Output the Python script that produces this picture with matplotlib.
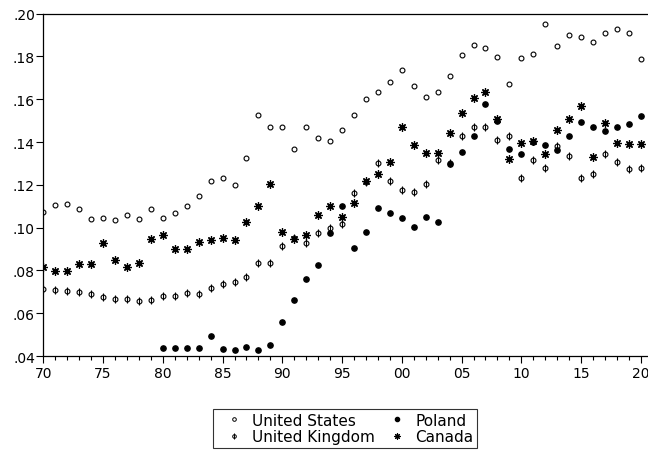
import matplotlib
matplotlib.use("Agg")
import matplotlib.pyplot as plt
import numpy as np
from matplotlib.ticker import MultipleLocator, FuncFormatter
from matplotlib.lines import Line2D

plt.rcParams['font.family'] = ['DejaVu Sans']

years = np.arange(1970, 2021)

united_states = [0.1072, 0.1108, 0.1110, 0.1089, 0.1040, 0.1046, 0.1037, 0.1061, 0.1040, 0.1086,
                 0.1046, 0.1069, 0.1102, 0.1150, 0.1217, 0.1231, 0.1200, 0.1325, 0.1525, 0.1472,
                 0.1472, 0.1368, 0.1472, 0.1418, 0.1407, 0.1455, 0.1527, 0.1602, 0.1634, 0.1679,
                 0.1737, 0.1662, 0.1612, 0.1636, 0.1709, 0.1809, 0.1854, 0.1838, 0.1796, 0.1673,
                 0.1791, 0.1810, 0.1950, 0.1849, 0.1899, 0.1891, 0.1869, 0.1908, 0.1928, 0.1908,
                 0.1790]

united_kingdom = [0.0713, 0.0710, 0.0702, 0.0699, 0.0690, 0.0677, 0.0668, 0.0666, 0.0658, 0.0660,
                  0.0682, 0.0682, 0.0696, 0.0691, 0.0719, 0.0735, 0.0747, 0.0769, 0.0833, 0.0834,
                  0.0912, 0.0953, 0.0926, 0.0974, 0.0998, 0.1015, 0.1161, 0.1212, 0.1301, 0.1217,
                  0.1175, 0.1166, 0.1202, 0.1315, 0.1300, 0.1430, 0.1469, 0.1471, 0.1409, 0.1430,
                  0.1231, 0.1318, 0.1278, 0.1382, 0.1335, 0.1231, 0.1251, 0.1346, 0.1309, 0.1273,
                  0.1278]

poland = [np.nan] * 10 + [
          0.0437, 0.0437, 0.0437, 0.0437, 0.0492, 0.0433, 0.0430, 0.0440, 0.0426, 0.0453,
          0.0557, 0.0660, 0.0758, 0.0825, 0.0974, 0.1100, 0.0907, 0.0979, 0.1091, 0.1068,
          0.1046, 0.1002, 0.1048, 0.1025, 0.1298, 0.1354, 0.1429, 0.1580, 0.1497, 0.1367,
          0.1345, 0.1398, 0.1388, 0.1365, 0.1429, 0.1495, 0.1472, 0.1452, 0.1469, 0.1486,
          0.1522]

canada = [0.0816, 0.0795, 0.0797, 0.0830, 0.0830, 0.0928, 0.0851, 0.0814, 0.0837, 0.0949,
          0.0967, 0.0900, 0.0900, 0.0931, 0.0943, 0.0951, 0.0942, 0.1027, 0.1100, 0.1202,
          0.0981, 0.0948, 0.0965, 0.1061, 0.1100, 0.1052, 0.1117, 0.1220, 0.1253, 0.1306,
          0.1472, 0.1388, 0.1348, 0.1348, 0.1443, 0.1538, 0.1608, 0.1633, 0.1508, 0.1323,
          0.1396, 0.1407, 0.1342, 0.1458, 0.1508, 0.1570, 0.1328, 0.1490, 0.1395, 0.1390,
          0.1390]

fig = plt.figure(figsize=(6.48, 4.56), dpi=100)
ax = fig.add_axes([0.0668, 0.2171, 0.9332, 0.7507])

ax.plot(years, united_states, linestyle='none', marker='o', markersize=3.5,
        markerfacecolor='white', markeredgecolor='black', markeredgewidth=0.8)
ax.plot(years, united_kingdom, linestyle='none', marker='o', markersize=3.5,
        markerfacecolor='white', markeredgecolor='black', markeredgewidth=0.8)
ax.plot(years, united_kingdom, linestyle='none', marker='|', markersize=5.5,
        markeredgecolor='black', markeredgewidth=0.8)
ax.plot(years, poland, linestyle='none', marker='o', markersize=3.8,
        color='black')
ax.plot(years, canada, linestyle='none', marker=(8, 2, 0), markersize=6,
        markeredgecolor='black', markeredgewidth=0.9)

ax.set_xlim(1970, 2020.6)
ax.set_ylim(0.04, 0.20)
ax.xaxis.set_major_locator(MultipleLocator(5))
ax.xaxis.set_minor_locator(MultipleLocator(1))
ax.yaxis.set_major_locator(MultipleLocator(0.02))
ax.xaxis.set_major_formatter(FuncFormatter(lambda v, p: "%02d" % (int(round(v)) % 100)))
ax.yaxis.set_major_formatter(FuncFormatter(lambda v, p: ("%.2f" % v)[1:]))
ax.tick_params(axis='both', which='major', length=5, width=0.8, labelsize=10, direction='out')
ax.tick_params(axis='x', which='minor', length=3, width=0.8, direction='out')
ax.tick_params(axis='x', pad=2)
ax.tick_params(axis='y', pad=1)
for s in ax.spines.values():
    s.set_linewidth(0.9)
ax.spines['right'].set_visible(False)

h_us = Line2D([], [], linestyle='none', marker='o', markersize=2.6,
              markerfacecolor='white', markeredgecolor='black', markeredgewidth=0.7)
h_uk = (Line2D([], [], linestyle='none', marker='o', markersize=2.6,
               markerfacecolor='white', markeredgecolor='black', markeredgewidth=0.7),
        Line2D([], [], linestyle='none', marker='|', markersize=4,
               markeredgecolor='black', markeredgewidth=0.7))
h_pl = Line2D([], [], linestyle='none', marker='o', markersize=3, color='black')
h_ca = Line2D([], [], linestyle='none', marker=(8, 2, 0), markersize=4.5,
              markeredgecolor='black', markeredgewidth=0.8)

leg = fig.legend([h_us, h_uk, h_pl, h_ca],
                 ['United States', 'United Kingdom', 'Poland', 'Canada'],
                 ncol=2, loc='upper left', bbox_to_anchor=(213.3 / 648, 1 - 410 / 456),
                 fontsize=11, frameon=True, fancybox=False, edgecolor='black',
                 handlelength=2.2, handletextpad=0.07, columnspacing=0.38,
                 borderpad=0.25, labelspacing=0.1, borderaxespad=0)
leg.get_frame().set_linewidth(0.8)

fig.savefig("out.png", dpi=100)
